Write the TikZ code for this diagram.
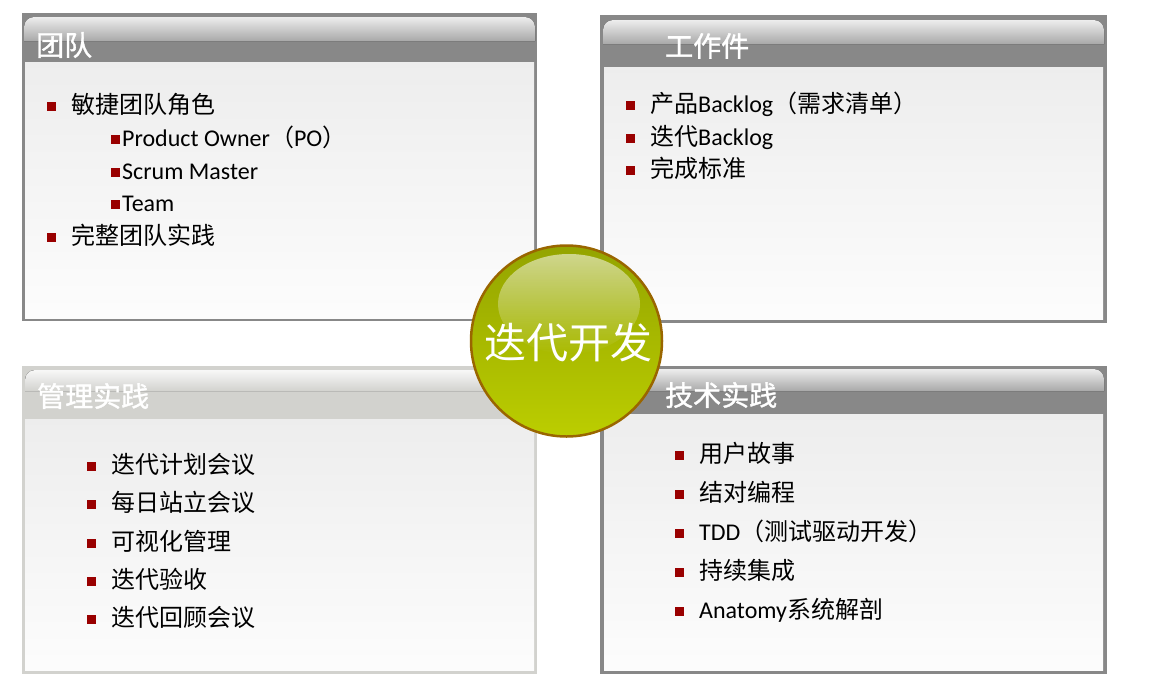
\documentclass[tikz,border=0pt]{standalone}
\usepackage{fontspec}
\setmainfont{Carlito}
\newfontfamily\cjk{Noto Sans CJK SC}
\newfontfamily\cjkhead[FakeBold=1.2]{Noto Sans CJK SC}
\usetikzlibrary{fadings}
\definecolor{framegray}{HTML}{888888}
\definecolor{framelight}{HTML}{D2D2CE}
\definecolor{bulletred}{HTML}{990000}
\definecolor{hubgreen}{HTML}{B4C800}
\definecolor{hubring}{HTML}{9A6600}
\newcommand{\bul}{\textcolor{bulletred}{\rule[2pt]{9pt}{9pt}}}
\newcommand{\zh}[1]{{\cjk #1}}
\begin{document}
\begin{tikzpicture}[x=1pt,y=-1pt]
        \useasboundingbox (0,0) rectangle (1165,689);
        \tikzset{
            body/.style={top color=white!93!black,bottom color=white!99!black},
            gloss/.style={top color=white!93!black,bottom color=white!66!black},
            lightgloss/.style={top color=white!97!black,bottom color=framelight},
            title/.style={anchor=west,inner sep=0pt,text=white,font=\cjkhead\fontsize{28}{28}\selectfont},
        }
        % panels
        \fill[framegray] (22,13) rectangle (537,321);
        \fill[gloss] (24,41) [rounded corners=10pt] -- (24,17) -- (535,17) [sharp corners] -- (535,41) -- cycle;
        \fill[body] (25,62) rectangle (534,318);

        \fill[framegray] (600,15) rectangle (1107,323);
        \fill[gloss] (603,44) [rounded corners=10pt] -- (603,20) -- (1104,20) [sharp corners] -- (1104,44) -- cycle;
        \fill[body] (604,67) rectangle (1103,319);

        \fill[framelight] (22,366) rectangle (537,674);
        \fill[lightgloss] (25,391) [rounded corners=10pt] -- (25,370) -- (534,370) [sharp corners] -- (534,391) -- cycle;
        \fill[body] (25,419) rectangle (534,670);

        \fill[framegray] (600,366) rectangle (1107,674);
        \fill[gloss] (603,391) [rounded corners=10pt] -- (603,369) -- (1104,369) [sharp corners] -- (1104,391) -- cycle;
        \fill[body] (604,414) rectangle (1103,670);

        \node[title] (tteam) at (36,45) {团队};
        \node[title] (tart)  at (665,46) {工作件};
        \node[title] (tmgmt) at (37,396) {管理实践};
        \node[title] (ttech) at (665,395) {技术实践};

        \begin{scope}[every node/.style={anchor=base west,inner sep=0pt,font=\fontsize{24}{24}\selectfont}]
            \node (t1)  at (47,113)  {\bul\hspace{15pt}\zh{敏捷团队角色}};
            \node (t1a) at (111,146) {\bul\hspace{2pt}Product Owner\zh{（}PO\zh{）}};
            \node (t1b) at (111,179) {\bul\hspace{2pt}Scrum Master};
            \node (t1c) at (111,211) {\bul\hspace{2pt}Team};
            \node (t2)  at (47,244)  {\bul\hspace{15pt}\zh{完整团队实践}};

            \node (a1) at (626,112) {\bul\hspace{15pt}\zh{产品}Backlog\zh{（需求清单）}};
            \node (a2) at (626,145) {\bul\hspace{15pt}\zh{迭代}Backlog};
            \node (a3) at (626,177) {\bul\hspace{15pt}\zh{完成标准}};

            \node (m1) at (87,473) {\bul\hspace{15pt}\zh{迭代计划会议}};
            \node (m2) at (87,511) {\bul\hspace{15pt}\zh{每日站立会议}};
            \node (m3) at (87,550) {\bul\hspace{15pt}\zh{可视化管理}};
            \node (m4) at (87,588) {\bul\hspace{15pt}\zh{迭代验收}};
            \node (m5) at (87,626) {\bul\hspace{15pt}\zh{迭代回顾会议}};

            \node (p1) at (675,462) {\bul\hspace{15pt}\zh{用户故事}};
            \node (p2) at (675,501) {\bul\hspace{15pt}\zh{结对编程}};
            \node (p3) at (675,540) {\bul\hspace{15pt}TDD\zh{（测试驱动开发）}};
            \node (p4) at (675,579) {\bul\hspace{15pt}\zh{持续集成}};
            \node (p5) at (675,618) {\bul\hspace{15pt}Anatomy\zh{系统解剖}};
        \end{scope}

        % centre ball
        \node[circle,minimum size=191pt,draw=hubring,line width=2.5pt,
              top color=hubgreen!82!black,bottom color=hubgreen!90!yellow] (hub) at (566.5,341) {};
        \fill[white,fill opacity=0.55,path fading=south] (569,304) ellipse (71 and 50);
        \node[text=white,font=\cjk\fontsize{42}{42}\selectfont] (hubtext) at (568,343) {迭代开发};
\end{tikzpicture}
\end{document}
